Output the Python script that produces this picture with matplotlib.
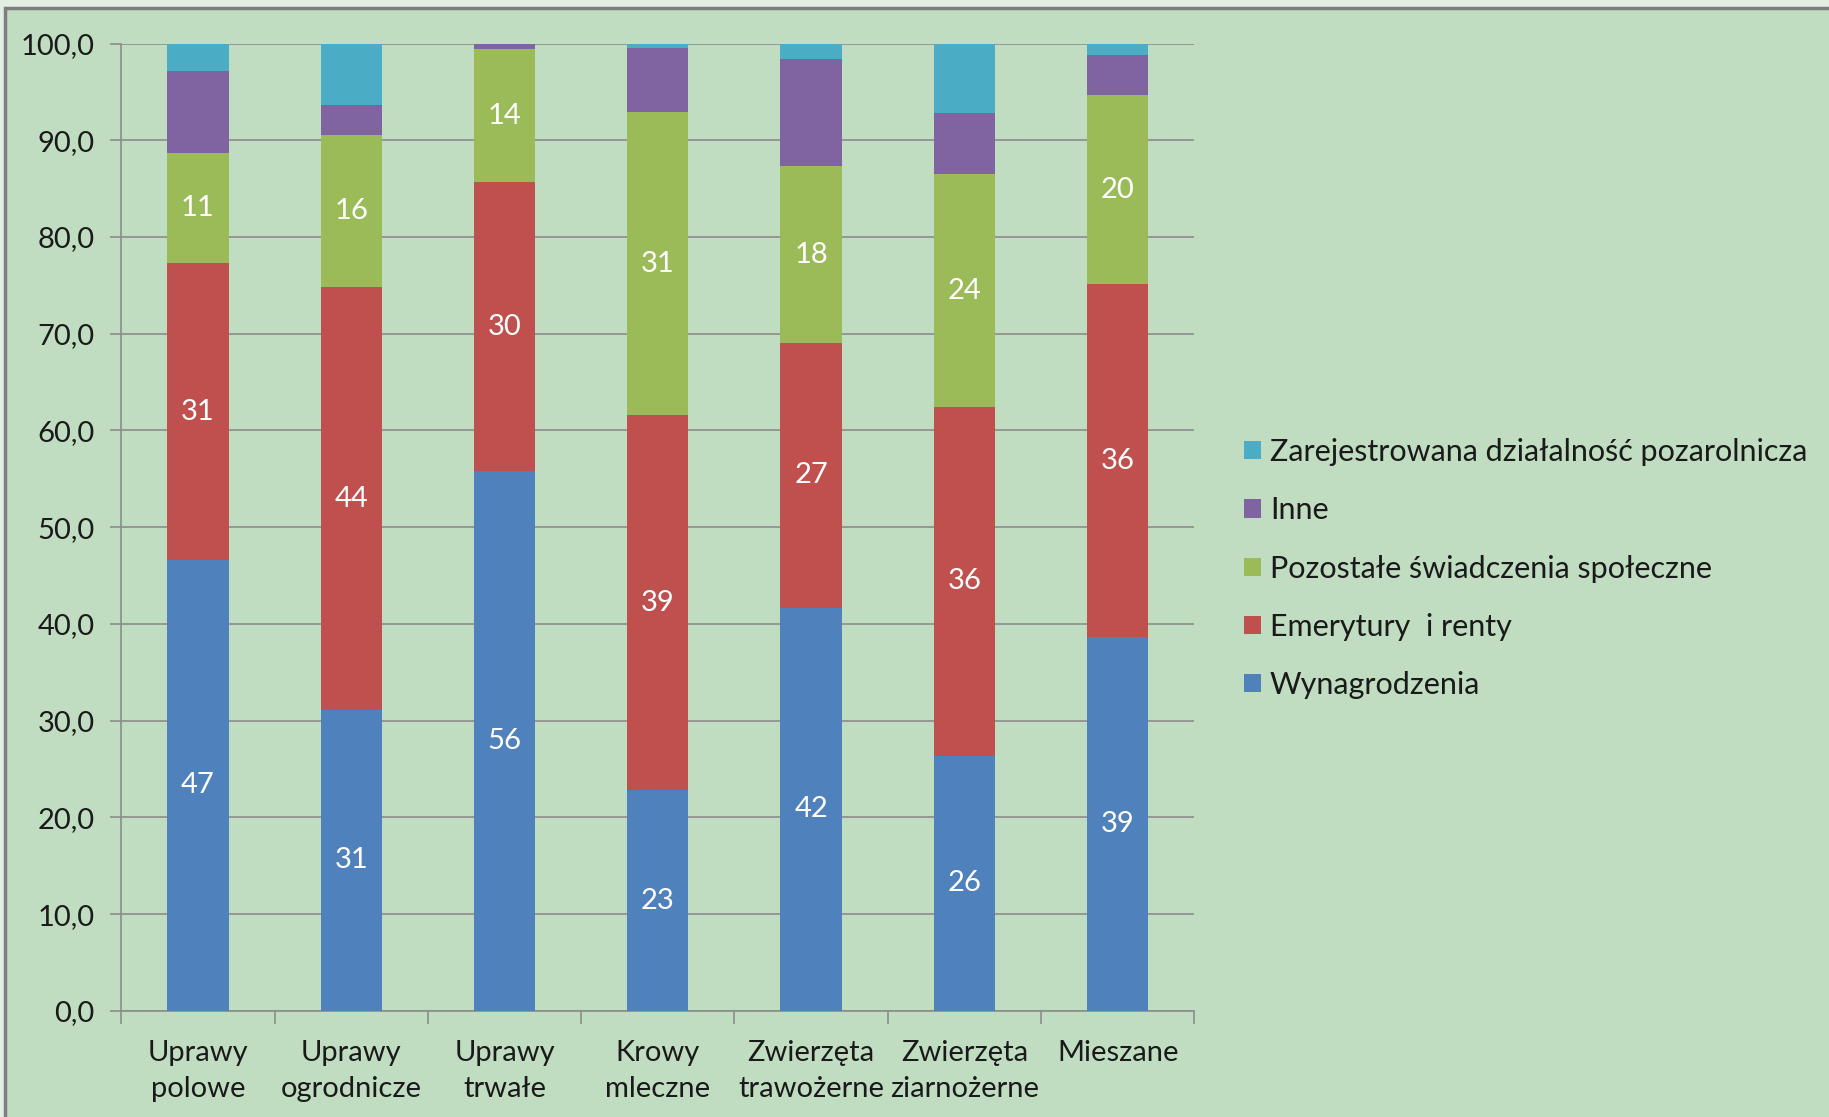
import matplotlib.pyplot as plt
import numpy as np

plt.rcParams['font.family'] = ['Lato', 'DejaVu Sans']

# ----------------------------------------------------------
# Data
# ----------------------------------------------------------

categories = [
    "Uprawy\npolowe",
    "Uprawy\nogrodnicze",
    "Uprawy\ntrwałe",
    "Krowy\nmleczne",
    "Zwierzęta\ntrawożerne",
    "Zwierzęta\nziarnożerne",
    "Mieszane",
]

wynagrodzenia = [46.6, 31.1, 55.8, 22.8, 41.7, 26.4, 38.6]
emerytury = [30.7, 43.7, 29.9, 38.8, 27.3, 36.0, 36.5]
swiadczenia = [11.4, 15.7, 13.7, 31.3, 18.3, 24.1, 19.6]
inne = [8.5, 3.2, 0.6, 6.6, 11.1, 6.3, 4.1]
dzialalnosc = [2.8, 6.3, 0.0, 0.5, 1.6, 7.2, 1.2]

series = [
    ("Wynagrodzenia", wynagrodzenia, "#4f81bd", True),
    ("Emerytury  i renty", emerytury, "#c0504d", True),
    ("Pozostałe świadczenia społeczne", swiadczenia, "#9bbb59", True),
    ("Inne", inne, "#8064a2", False),
    ("Zarejestrowana działalność pozarolnicza", dzialalnosc, "#4bacc6", False),
]

yticks = np.arange(0, 101, 10)
ytick_labels = [f"{v:.1f}".replace(".", ",") for v in yticks]

# ----------------------------------------------------------
# Figure
# ----------------------------------------------------------

bg = "#c0ddc1"
fs = 21

fig = plt.figure(figsize=(18.29, 11.17), dpi=100)
fig.patch.set_facecolor("#e1eee2")

# chart area panel with dark border on top/left
panel = plt.Rectangle(
    (0.003, -0.01), 1.0, 1.0025,
    transform=fig.transFigure,
    facecolor=bg,
    edgecolor="#7f7f7f",
    linewidth=2.5,
    zorder=-10
)
fig.patches.append(panel)

ax = fig.add_axes([0.0663, 0.095, 0.5867, 0.866])
ax.set_facecolor(bg)

x = np.arange(len(categories))
bottom = np.zeros(len(categories))
handles = []

for name, values, color, labelled in series:
    vals = np.array(values)
    bars = ax.bar(
        x,
        vals,
        width=0.4,
        bottom=bottom,
        color=color,
        label=name,
        zorder=3
    )
    handles.append(bars)
    if labelled:
        for xi, b, v in zip(x, bottom, vals):
            ax.text(
                xi,
                b + v / 2,
                f"{v:.0f}",
                ha="center",
                va="center",
                color="white",
                fontsize=fs,
                zorder=4
            )
    bottom = bottom + vals

ax.set_xlim(-0.5, len(categories) - 0.5)
ax.set_ylim(0, 100)

ax.set_yticks(yticks)
ax.set_yticklabels(ytick_labels, fontsize=fs, color="#1a1a1a")

ax.set_xticks(x)
ax.set_xticklabels(categories, fontsize=fs, color="#1a1a1a", linespacing=1.45)
ax.tick_params(axis="x", length=0, pad=21)
ax.set_xticks(np.arange(-0.5, len(categories)), minor=True)
ax.tick_params(axis="x", which="minor", length=9, width=1.2, color="#8c8c8c")
ax.tick_params(axis="y", length=8, width=1.2, color="#8c8c8c", pad=11)

ax.grid(axis="y", color="#8c8c8c", linewidth=1.2, zorder=1)

for side in ["top", "right"]:
    ax.spines[side].set_visible(False)
for side in ["left", "bottom"]:
    ax.spines[side].set_color("#8c8c8c")
    ax.spines[side].set_linewidth(1.2)

leg = fig.legend(
    handles[::-1],
    [s[0] for s in series][::-1],
    loc="center left",
    bbox_to_anchor=(0.665, 0.491),
    frameon=False,
    fontsize=22,
    handlelength=0.55,
    handleheight=0.55,
    handletextpad=0.3,
    labelspacing=0.99
)
for t in leg.get_texts():
    t.set_color("#1a1a1a")

plt.savefig("out.png", dpi=100, facecolor=fig.get_facecolor())
plt.close()
